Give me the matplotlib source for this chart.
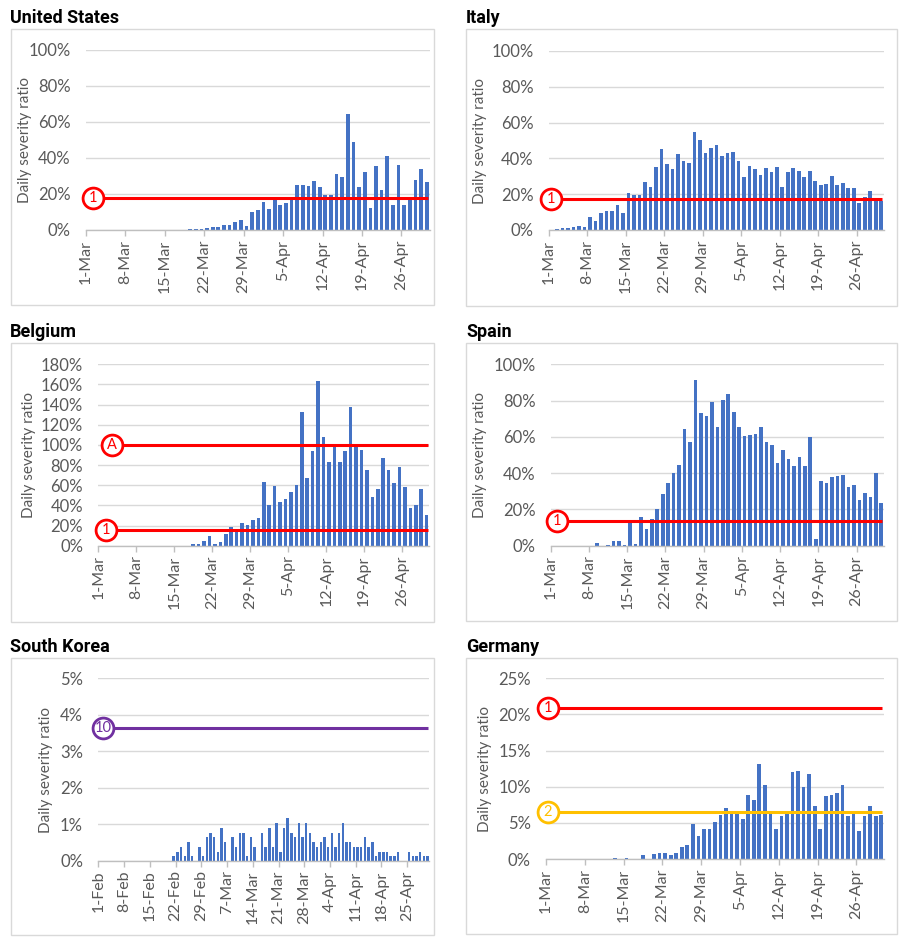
import matplotlib
matplotlib.use("Agg")
import matplotlib.pyplot as plt
from matplotlib.patches import Rectangle
from matplotlib.ticker import PercentFormatter, MultipleLocator
import numpy as np
import pandas as pd

# daily severity ratio (%), one value per day from the start date
us_start = "2020-03-19"
us_values = [0.5, 0.5, 0.5, 1.0, 1.5, 1.5, 2.5, 2.5, 4.3, 5.8, 2.0, 10.2, 11.3,
             15.7, 11.5, 17.6, 13.9, 15.0, 17.5, 25.0, 25.0, 24.4, 27.2, 24.0, 19.4,
             19.4, 31.1, 29.6, 64.4, 48.9, 24.0, 32.2, 12.4, 35.7, 22.0, 41.3, 14.0,
             36.3, 14.0, 17.5, 27.6, 33.7, 26.7]
us_lines = [18.0]

italy_start = "2020-03-02"
italy_values = [0.8, 1.3, 1.3, 1.7, 2.2, 1.8, 7.4, 5.3, 9.7, 10.8, 10.4, 13.9, 9.3,
                20.6, 19.6, 19.6, 26.6, 24.2, 35.3, 45.0, 36.8, 33.8, 42.4, 38.8, 37.4,
                55.0, 50.5, 42.9, 45.9, 47.6, 41.4, 42.9, 43.3, 38.8, 29.7, 35.9, 34.2,
                30.9, 34.4, 32.3, 35.3, 24.2, 32.3, 34.4, 32.9, 29.7, 32.7, 27.3, 24.9,
                25.8, 30.3, 24.9, 26.4, 23.6, 23.2, 14.9, 18.6, 21.7, 18.0, 16.2]
italy_lines = [17.3]

belgium_start = "2020-03-18"
belgium_values = [2.0, 2.0, 4.5, 9.6, 2.0, 3.5, 11.3, 18.2, 15.0, 22.5, 21.0, 25.5,
                  27.0, 63.5, 40.5, 59.5, 43.5, 46.0, 53.5, 60.5, 132.8, 67.0, 93.5,
                  163.9, 108.0, 83.5, 99.0, 83.5, 93.5, 137.4, 98.0, 95.0, 75.5, 48.0,
                  56.0, 87.0, 75.5, 62.5, 78.0, 58.0, 37.0, 40.5, 56.0, 30.5]
belgium_lines = [100.0, 15.2]

spain_start = "2020-03-09"
spain_values = [1.6, 0.0, 0.5, 2.6, 2.6, 0.6, 13.0, 1.1, 16.0, 9.4, 14.9, 20.4, 28.7,
                34.6, 40.0, 44.7, 64.3, 57.2, 91.4, 73.3, 71.3, 79.4, 65.3, 80.3, 83.5,
                73.9, 65.3, 60.3, 60.8, 61.4, 65.3, 57.4, 55.3, 45.8, 52.8, 47.8, 43.8,
                48.9, 43.8, 59.9, 3.9, 35.7, 34.6, 37.7, 38.2, 38.8, 32.4, 33.3, 25.2,
                29.2, 26.7, 39.9, 23.7]
spain_lines = [13.4]

korea_start = "2020-02-21"
korea_values = [0.13, 0.25, 0.37, 0.13, 0.52, 0.13, 0.0, 0.37, 0.13, 0.65, 0.76, 0.65,
                0.25, 0.89, 0.52, 0.0, 0.65, 0.37, 0.76, 0.76, 0.13, 0.65, 0.37, 0.0,
                0.76, 0.37, 0.89, 0.37, 1.02, 0.25, 0.89, 1.16, 0.76, 0.65, 1.02, 0.65,
                1.02, 0.76, 0.52, 0.37, 0.52, 0.65, 0.37, 0.76, 0.37, 0.76, 1.02, 0.52,
                0.52, 0.37, 0.37, 0.37, 0.65, 0.37, 0.52, 0.13, 0.25, 0.25, 0.25, 0.13,
                0.13, 0.25, 0.0, 0.0, 0.25, 0.13, 0.13, 0.25, 0.13, 0.13]
korea_lines = [3.63]

germany_start = "2020-03-13"
germany_values = [0.18, 0.0, 0.18, 0.0, 0.0, 0.55, 0.0, 0.75, 0.88, 0.78, 0.52, 0.88,
                  1.66, 1.94, 4.9, 3.2, 4.2, 4.1, 5.1, 6.1, 7.0, 6.4, 6.4, 5.5, 8.9, 8.1,
                  13.2, 10.2, 6.4, 4.2, 6.0, 6.7, 12.0, 12.2, 9.9, 11.8, 7.4, 4.2, 8.7,
                  8.9, 9.1, 10.3, 5.9, 6.2, 3.9, 5.9, 7.4, 6.0, 6.1]
germany_lines = [20.9, 6.55]

BLUE = "#4472C4"
RED = "#FF0000"
PURPLE = "#7030A0"
GOLD = "#FFC000"
GRAY_TXT = "#595959"

W, H = 900, 947

plt.rcParams['font.family'] = ['Lato', 'DejaVu Sans']

PANELS = [
    dict(title="United States", values=us_values, start=us_start, lines=us_lines,
         marks=[("1", RED)], axis_start="2020-03-01", ndays=61, ymax=100, ystep=20,
         box=(11, 29, 434, 305), title_pos=(10, 18), axes=(86, 429.5, 50, 230),
         ylabel_x=25, mark_x=[1.25]),
    dict(title="Italy", values=italy_values, start=italy_start, lines=italy_lines,
         marks=[("1", RED)], axis_start="2020-03-01", ndays=61, ymax=100, ystep=20,
         box=(466, 29, 897, 306), title_pos=(466, 18), axes=(548.7, 884, 51, 230),
         ylabel_x=480, mark_x=[0.4]),
    dict(title="Belgium", values=belgium_values, start=belgium_start, lines=belgium_lines,
         marks=[("A", RED), ("1", RED)], axis_start="2020-03-01", ndays=61, ymax=180,
         ystep=20, box=(11, 343, 434, 622), title_pos=(10, 332),
         axes=(98.3, 429.3, 364.3, 545.7), ylabel_x=29, mark_x=[2.5, 1.36]),
    dict(title="Spain", values=spain_values, start=spain_start, lines=spain_lines,
         marks=[("1", RED)], axis_start="2020-03-01", ndays=61, ymax=100, ystep=20,
         box=(466, 343, 897, 621), title_pos=(466, 332), axes=(550.7, 884, 364.3, 545.7),
         ylabel_x=480, mark_x=[1.2]),
    dict(title="South Korea", values=korea_values, start=korea_start, lines=korea_lines,
         marks=[("10", PURPLE)], axis_start="2020-02-01", ndays=90, ymax=5, ystep=1,
         box=(11, 658, 434, 935), title_pos=(10, 647), axes=(98.3, 429.3, 678.3, 860.7),
         ylabel_x=46, mark_x=[1.36]),
    dict(title="Germany", values=germany_values, start=germany_start, lines=germany_lines,
         marks=[("1", RED), ("2", GOLD)], axis_start="2020-03-01", ndays=61, ymax=25,
         ystep=5, box=(466, 658, 897, 934), title_pos=(466, 647), axes=(546, 884, 678.3, 859),
         ylabel_x=485, mark_x=[0.3, 0.3]),
]


def draw_panel(fig, p):
    x0, y0, x1, y1 = p["box"]
    fig.add_artist(Rectangle((x0 / W, 1 - y1 / H), (x1 - x0) / W, (y1 - y0) / H,
                             transform=fig.transFigure, fill=False,
                             ec="#D9D9D9", lw=1))
    tx, ty = p["title_pos"]
    fig.text(tx / W, 1 - ty / H, p["title"], fontsize=13, fontweight="bold",
             family=["Roboto", "DejaVu Sans"], ha="left", va="center", color="black")

    ax_l, ax_r, ax_t, ax_b = p["axes"]
    ax = fig.add_axes([ax_l / W, 1 - ax_b / H, (ax_r - ax_l) / W, (ax_b - ax_t) / H])

    axis_start = pd.Timestamp(p["axis_start"])
    offset = (pd.Timestamp(p["start"]) - axis_start).days
    xs = np.arange(len(p["values"])) + offset + 0.5
    ax.bar(xs, p["values"], width=0.66, color=BLUE, zorder=2)

    ax.set_xlim(0, p["ndays"])
    ax.set_ylim(0, p["ymax"])
    ax.yaxis.set_major_locator(MultipleLocator(p["ystep"]))
    ax.yaxis.set_major_formatter(PercentFormatter(100, decimals=0))
    ax.yaxis.grid(True, color="#D9D9D9", lw=1, zorder=0)
    ax.set_axisbelow(True)

    ticks = np.arange(0, p["ndays"], 7)
    dates = [axis_start + pd.Timedelta(days=int(t)) for t in ticks]
    ax.set_xticks(ticks)
    ax.set_xticklabels([f"{d.day}-{d.strftime('%b')}" for d in dates], rotation=90)

    for side in ["top", "right", "left"]:
        ax.spines[side].set_visible(False)
    ax.spines["bottom"].set_color("#BFBFBF")
    ax.spines["bottom"].set_linewidth(1)
    ax.tick_params(axis="x", direction="out", length=4, width=1, color="#BFBFBF",
                   labelsize=11.5, labelcolor=GRAY_TXT, pad=3)
    ax.tick_params(axis="y", length=0, labelsize=12, labelcolor=GRAY_TXT, pad=11)

    fig.text(p["ylabel_x"] / W, 1 - ((ax_t + ax_b) / 2) / H, "Daily severity ratio",
             rotation=90, ha="center", va="center", fontsize=11, color=GRAY_TXT)

    for level, (label, color), mx in zip(p["lines"], p["marks"], p["mark_x"]):
        ax.plot([mx, p["ndays"] - 0.3], [level, level], color=color, lw=2.2, zorder=3,
                solid_capstyle="butt")
        ax.plot(mx, level, marker="o", ms=15, mfc="white", mec=color, mew=2,
                zorder=4, clip_on=False)
        ax.text(mx, level, label, color=color, fontsize=10.5, ha="center",
                va="center", zorder=5, clip_on=False)
    return ax


fig = plt.figure(figsize=(W / 100, H / 100), dpi=100)
for p in PANELS:
    draw_panel(fig, p)

plt.savefig("out.png", dpi=100)
